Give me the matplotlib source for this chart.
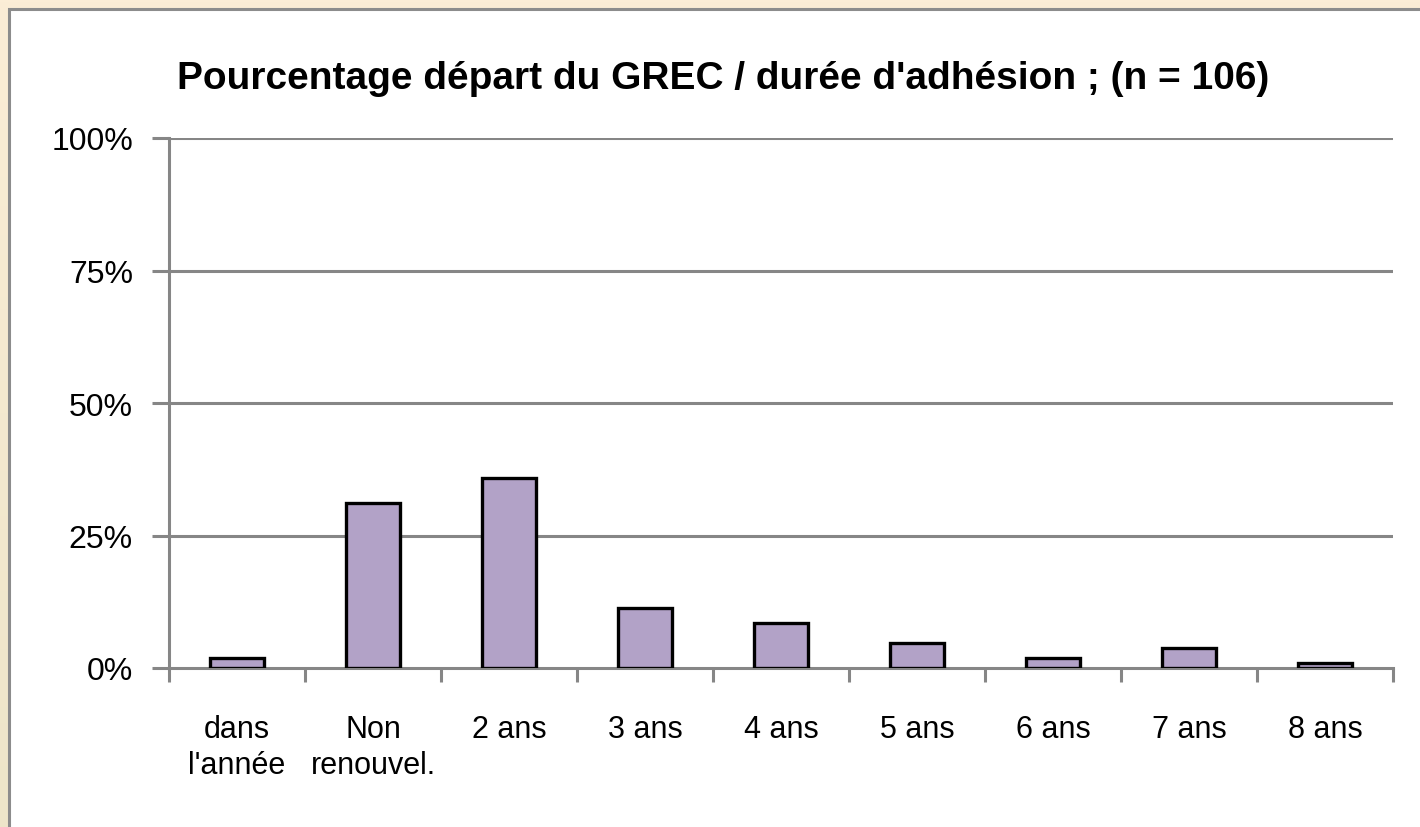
import numpy as np
import matplotlib
matplotlib.use("Agg")
import matplotlib.pyplot as plt
from matplotlib.patches import Rectangle

categories = ["dans\nl'année", "Non\nrenouvel.", "2 ans", "3 ans", "4 ans",
              "5 ans", "6 ans", "7 ans", "8 ans"]
counts = [2, 33, 38, 12, 9, 5, 2, 4, 1]
n_total = 106
pct = [100.0 * c / n_total for c in counts]
yticks = [0, 25, 50, 75, 100]

plt.rcParams['font.family'] = ['Liberation Sans', 'DejaVu Sans']

fig = plt.figure(figsize=(14.2, 8.28), dpi=100)

# beige backdrop with soft vertical gradient
bg = fig.add_axes([0, 0, 1, 1], zorder=-10)
top_c = np.array([251, 237, 214]) / 255.0
bot_c = np.array([237, 229, 201]) / 255.0
g = np.linspace(0, 1, 256)[:, None, None]
grad = top_c * (1 - g) + bot_c * g
bg.imshow(grad, aspect='auto', extent=[0, 1, 0, 1])
bg.set_axis_off()

# white chart panel running off right and bottom edges
W, H = 1420, 828
fig.patches.append(Rectangle((8.5 / W, -0.05), 1.2, 1 - 9.5 / H + 0.05,
                             transform=fig.transFigure, facecolor='white',
                             edgecolor='#8c8c8c', linewidth=2.2, zorder=-5))

ax = fig.add_axes([169 / W, (H - 669) / H, (1393 - 169) / W, (669 - 139) / H])
ax.set_facecolor('none')

x = np.arange(len(categories))
ax.bar(x, pct, width=0.4, color='#b2a2c7', edgecolor='black', linewidth=2.4, zorder=3)

ax.set_xlim(-0.5, len(categories) - 0.5)
ax.set_ylim(0, 100)
ax.set_yticks(yticks)
ax.set_yticklabels([f"{v}%" for v in yticks], fontsize=23)
for v in yticks[1:]:
    ax.axhline(v, color='#868686', linewidth=2.2, zorder=1, xmin=0, xmax=1)

ax.set_xticks(x)
ax.set_xticklabels(categories, fontsize=22, linespacing=1.25)
ax.set_xticks(np.arange(len(categories) + 1) - 0.5, minor=True)
ax.tick_params(axis='x', which='major', length=0, pad=33)
ax.tick_params(axis='x', which='minor', length=10, width=2.2, color='#868686')
ax.tick_params(axis='y', length=12, width=2.2, color='#868686', pad=14)

for side in ['top', 'right']:
    ax.spines[side].set_visible(False)
for side in ['left', 'bottom']:
    ax.spines[side].set_color('#868686')
    ax.spines[side].set_linewidth(2.2)

fig.text(0.509, 0.905, "Pourcentage départ du GREC / durée d'adhésion ; (n = 106)",
         ha='center', va='center', fontsize=28, fontweight='bold')

fig.savefig("out.png", dpi=100)
